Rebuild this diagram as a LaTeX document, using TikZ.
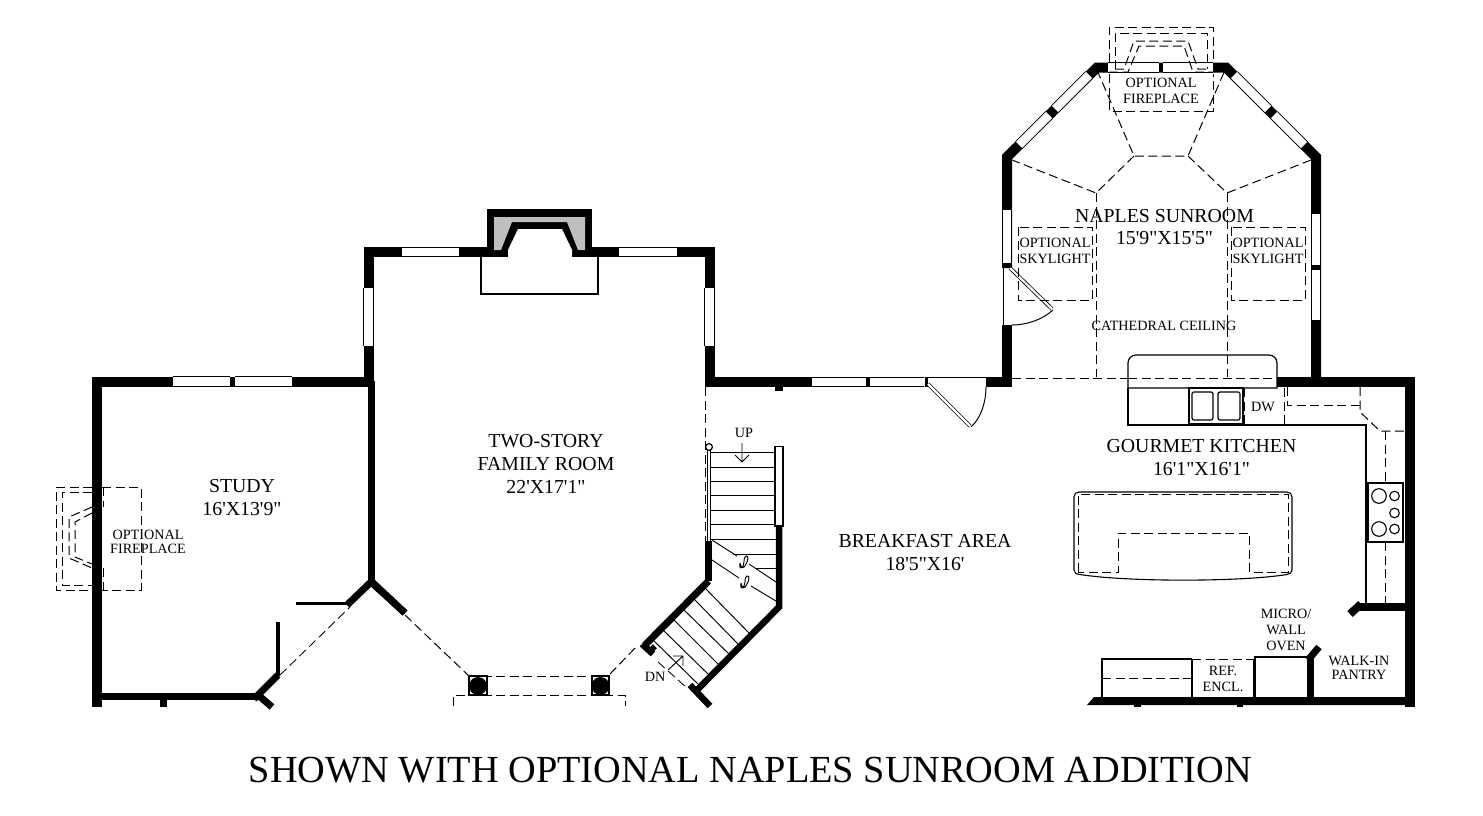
\documentclass[tikz,border=0pt]{standalone}
\usepackage{fontspec}
\setmainfont{Liberation Serif}
\newfontfamily\planfont{Liberation Serif}
\tikzset{
  wallw/.style={line width=10,line join=miter,line cap=butt,draw=black},
  wallm/.style={line width=7,line join=miter,line cap=butt,draw=black},
  walln/.style={line width=3.6,line cap=butt,draw=black},
  win/.style={line width=0.9,double=white,double distance=8.6,draw=black,line cap=butt},
  leaf/.style={line width=0.8,double=white,double distance=2.2,draw=black,line cap=butt},
  dsh/.style={line width=1,dash pattern=on 9pt off 4.5pt,draw=black},
  thin solid/.style={line width=1.2,draw=black},
  hair/.style={line width=0.95,draw=black},
  big/.style={font=\planfont\fontsize{19.8}{22.8}\selectfont,align=center,text=black,inner sep=0},
  small/.style={font=\planfont\fontsize{14.2}{16}\selectfont,align=center,text=black,inner sep=0},
  smalltight/.style={font=\planfont\fontsize{14.2}{14.2}\selectfont,align=center,text=black,inner sep=0},
}
\begin{document}
\begin{tikzpicture}[x=1pt,y=-1pt]
\useasboundingbox[fill=white] (0,0) rectangle (1483,815);

% ---- study
\draw[wallw] (97,707)--(97,381.5)--(369,381.5);
\draw[wallm] (97,696.5)--(258,696.5);
\draw[wallm] (254,699)--(278,675);
\draw[wallm] (257,694)--(272,707);
\draw[wallm] (163.5,699)--(163.5,707);
\draw[walln] (278,622)--(278,676);
\draw[walln] (296,603.5)--(349,603.5);
\draw[wallm] (347,605)--(371,582)--(405,613);
\draw[wallm] (371,381)--(371,582);
\draw[dsh,line width=0.85] (280,675)--(350,607);
\draw[win] (173,381.5)--(230,381.5);
\draw[win] (235,381.5)--(292,381.5);
% study fireplace
\draw[dsh] (92,487)--(56,487)--(56,590)--(92,590);
\draw[dsh] (102,487)--(141,487)--(141,590)--(102,590);
\draw[dsh] (92,492)--(62,492)--(62,585)--(92,585);
\draw[dsh] (103,487)--(103,507);
\draw[dsh] (103,568)--(103,590);
\draw[dsh] (92,507)--(69,517)--(69,558)--(92,568);
\draw[dsh] (92,513)--(75,522)--(75,557)--(92,564);

% ---- family room
\draw[wallw] (368.5,382)--(368.5,252)--(709.5,252)--(709.5,382)--(812,382);
\draw[win] (402,252)--(459,252);
\draw[win] (619,252)--(677,252);
\draw[win] (368.5,288)--(368.5,346);
\draw[win] (709.5,288)--(709.5,346);
\fill[black] (775,386)--(783,386)--(783,391)--(775,391)--cycle;
\draw[thin solid,line width=1.5] (481,257)--(481,294)--(598,294)--(598,257);
\fill[black] (487,209)--(592,209)--(592,257)--(487,257)--cycle;
\fill[black!25] (494,217)--(585,217)--(585,250)--(578,250)--(567,222)--(512,222)--(501,250)--(494,250)--cycle;
\fill[white] (508,250)--(518,229)--(562,229)--(572,250)--(572,257)--(508,257)--cycle;
\draw[wallm] (372,582)--(405,613);
\draw[wallm] (708.5,581)--(645,645);

% family front dashes and columns
\draw[dsh] (405,615)--(469,676);
\draw[dsh] (469,676)--(610,676);
\draw[dsh] (469,695)--(610,695);
\draw[dsh] (610,674)--(637,646);
\draw[thin solid] (469,676) rectangle (487,695);
\draw[thin solid] (592,676) rectangle (609,695);
\fill[black] (478,686) circle (9);
\fill[black] (600.5,686) circle (9);
\draw[dsh] (453,706)--(453,695)--(625,695)--(625,706);
\draw[dsh] (705,387)--(705,541);

% ---- breakfast wall, door
\draw[win] (812,382)--(866,382);
\draw[win] (870,382)--(924,382);
\draw[wallw] (866,382)--(870,382);
\draw[wallw] (924.5,382)--(928,382);
\draw[hair] (928,377.5)--(986,377.5);
\draw[wallw] (986,382)--(1012,382);
\draw[leaf] (928,384)--(970,426);
\draw[thin solid,line width=1] (971,427) .. controls (981,418) and (986,402) .. (986,387);

% ---- stairs
\draw[hair] (711,452)--(774,452) (711,467)--(774,467) (711,481)--(774,481) (711,495)--(774,495)
  (711,510)--(774,510) (711,524)--(774,524) (711,539)--(776,539) (733,554)--(776,554) (755,568)--(776,568);
\draw[hair] (712,540)--(737,556) (749,564)--(776,582);
\draw[hair] (712,560)--(739,578) (751,586)--(776,601);
\draw[hair] (740,563) .. controls (739,569) and (741,569) .. (743,566) .. controls (745,561) and (743,558) .. (746,556)
  .. controls (749,555) and (748,561) .. (746,564) .. controls (744,569) and (741,569) .. (740,563);
\draw[hair] (741,583) .. controls (740,589) and (742,589) .. (744,586) .. controls (746,581) and (744,578) .. (747,576)
  .. controls (750,575) and (749,581) .. (747,584) .. controls (745,589) and (742,589) .. (741,583);
\draw[hair] (705,588)--(749,633) (695,600)--(738,644) (684,610)--(729,654) (674,620)--(718,664) (663,630)--(708,674) (653,640)--(698,684);
\draw[wallm,line width=6.5] (708.5,541)--(708.5,581);
\draw[wallm,line width=6.5] (779,526)--(779,607)--(696,691);
\draw[wallm,line width=6.5] (690,685)--(710,706);
\draw[wallm,line width=6.5] (642,644)--(653,654);
\draw[wallm,line width=5] (651,646)--(655,650);
\draw[line width=0.8,double=white,double distance=2.4,draw=black,line cap=butt] (709,450)--(709,541);
\draw[thin solid,fill=white] (709,447) circle (3.4);
\draw[thin solid,fill=white,line width=1.5] (774.8,446.5) rectangle (783,526);
\draw[hair] (742,443)--(742,462) (735,455)--(742,462)--(749,455);
\draw[hair] (668,670)--(683,656) (673,656)--(683,656)--(683,666);
\draw[dsh,line width=0.85] (658,662)--(687,688);

% ---- sunroom
\draw[wallw] (1007,382)--(1007,325);
\draw[wallw] (1007,268)--(1007,157)--(1097,67.5)--(1226,67.5)--(1316,157)--(1316,382);
\draw[win] (1007,210)--(1007,263);
\draw[win] (1316,214)--(1316,265);
\draw[win] (1316,270)--(1316,320);
\draw[win] (1019,145)--(1049,115);
\draw[win] (1055,109)--(1089,75);
\draw[win] (1304,145)--(1274,115);
\draw[win] (1268,109)--(1234,75);
\draw[win] (1108,67.5)--(1159,67.5);
\draw[win] (1163,67.5)--(1213,67.5);
\draw[hair,line width=1] (1003,268)--(1003,325);
\draw[leaf] (1010,268)--(1052,309);
\draw[thin solid,line width=1] (1053,310) .. controls (1042,320) and (1026,325) .. (1012,325);

% ceiling lines
\draw[dsh] (1012,378)--(1128,378);
\draw[dsh] (1128,378)--(1277,378);
\draw[dsh] (1097,70)--(1134,156)--(1188,156)--(1225,70);
\draw[dsh] (1134,156)--(1096,193)--(1012,160);
\draw[dsh] (1188,156)--(1227,193)--(1311,160);
\draw[dsh] (1096,193)--(1096,377);
\draw[dsh] (1227,193)--(1227,377);
% skylights
\draw[dsh] (1018,227) rectangle (1092,300);
\draw[dsh] (1231,227) rectangle (1305,300);
% sunroom fireplace
\draw[dsh] (1109,62)--(1109,27)--(1213,27)--(1213,62);
\draw[dsh] (1109,74)--(1109,111)--(1213,111)--(1213,74);
\draw[dsh] (1115,69)--(1115,33)--(1207,33)--(1207,69);
\draw[dsh] (1115,69)--(1124,69)--(1134,41)--(1188,41)--(1198,69)--(1207,69);
\draw[dsh] (1109,72)--(1128,72)--(1139,46)--(1184,46)--(1193,72)--(1213,72);

% ---- kitchen
\draw[wallw] (1277,382)--(1409.5,382)--(1409.5,707);
\draw[thin solid,rounded corners=8] (1128,388)--(1128,355)--(1277,355)[sharp corners]--(1277,388)--cycle;
\draw[thin solid] (1128,388)--(1128,425)--(1366,425)--(1366,603);
\draw[thin solid] (1189,388) rectangle (1243,424);
\draw[thin solid,rounded corners=2] (1192,392) rectangle (1213,420);
\draw[thin solid,rounded corners=2] (1218,392) rectangle (1240,420);
\draw[dsh] (1244.5,388)--(1244.5,425);
\draw[dsh] (1284,388)--(1284,425);
\draw[dsh] (1287.5,387)--(1287.5,405)--(1360,405);
\draw[dsh] (1360,387)--(1360,412)--(1380,431)--(1404,431);
\draw[dsh] (1385,431)--(1385,483);
\draw[dsh] (1385,542)--(1385,603);
\draw[thin solid,line width=1.1] (1368,483) rectangle (1403,542);
\draw[thin solid,line width=1.1] (1379,496) circle (7.3);
\draw[thin solid,line width=1.1] (1379,529) circle (7.3);
\draw[thin solid,line width=1.1] (1394.5,496) circle (4.8);
\draw[thin solid,line width=1.1] (1394.5,513) circle (4.8);
\draw[thin solid,line width=1.1] (1394.5,529) circle (4.8);
% island
\draw[thin solid,line width=1.1] (1080,574.5) .. controls (1076,574.5) and (1074,572) .. (1074,570)--(1074,497)
  .. controls (1074,494) and (1076,492) .. (1079,492)--(1287,492) .. controls (1290,492) and (1292,494) .. (1292,497)
  --(1292,570) .. controls (1292,572) and (1290,574.5) .. (1287,574.5) .. controls (1240,582) and (1127,582) .. (1080,574.5)--cycle;
\draw[dsh] (1078,572)--(1078,494)--(1288,494)--(1288,572)--(1249,572)--(1249,533)--(1118,533)--(1118,572)--cycle;
% pantry and lower counters
\draw[wallm,line width=8] (1405,606.5)--(1358,606.5);
\draw[wallm,line width=8] (1361,604)--(1350,614);
\draw[wallm] (1310.5,698)--(1310.5,657);
\draw[wallm] (1308,660)--(1319,647);
\fill[black] (1087,705)--(1094,697)--(1410,697)--(1410,705)--cycle;
\fill[black] (1134,704) rectangle (1141,707);
\fill[black] (1237,704) rectangle (1243,707);
\draw[thin solid] (1102,697)--(1102,659)--(1192,659);
\draw[thin solid,line width=1.8] (1192,659)--(1192,697);
\draw[thin solid,line width=1.6] (1253.5,659)--(1253.5,697);
\draw[dsh] (1192,659)--(1253,659);
\draw[dsh] (1102,678)--(1192,678);
\draw[thin solid] (1255,697)--(1255,657)--(1307,657);

% ---- labels
\node[big] (study) at (242,497.5) {STUDY\\16'X13'9"};
\node[smalltight] (fpa) at (148,542) {OPTIONAL\\FIREPLACE};
\node[big] (family) at (546,464) {TWO-STORY\\FAMILY ROOM\\22'X17'1"};
\node[big] (breakfast) at (925,552.5) {BREAKFAST AREA\\18'5"X16'};
\node[big] (sunroom) at (1164.5,227) {NAPLES SUNROOM\\15'9"X15'5"};
\node[small] (fpb) at (1161,91) {OPTIONAL\\FIREPLACE};
\node[small] (sky1) at (1055,251) {OPTIONAL\\SKYLIGHT};
\node[small] (sky2) at (1268,251) {OPTIONAL\\SKYLIGHT};
\node[small] (cath) at (1164,325.5) {CATHEDRAL CEILING};
\node[big] (kitchen) at (1201.5,457.5) {GOURMET KITCHEN\\16'1"X16'1"};
\node[small] (dw) at (1263,407) {DW};
\node[small] (up) at (744,433) {UP};
\node[small] (dn) at (655,677) {DN};
\node[small] (ref) at (1223,678.5) {REF.\\ENCL.};
\node[small] (micro) at (1286,630) {MICRO/\\WALL\\OVEN};
\node[smalltight] (pantry) at (1359,668) {WALK-IN\\PANTRY};
\node[font=\planfont\fontsize{38.3}{40}\selectfont,text=black,inner sep=0] (title) at (750.5,770) {SHOWN WITH OPTIONAL NAPLES SUNROOM ADDITION};
\end{tikzpicture}
\end{document}
